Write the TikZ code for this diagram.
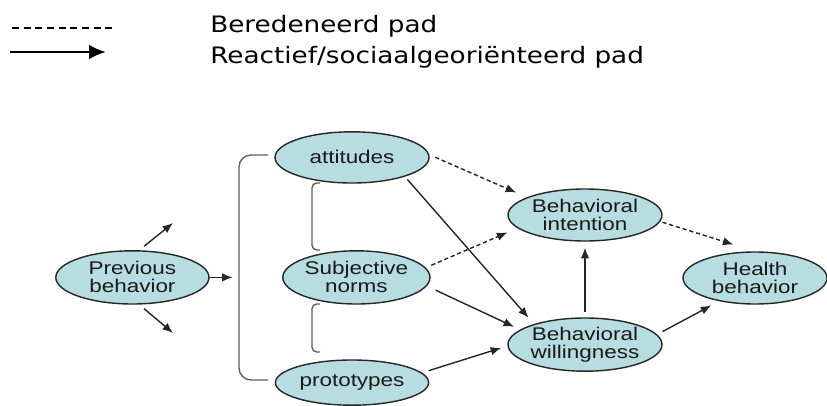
\documentclass[tikz,border=0pt]{standalone}
\usepackage{fontspec}
\setmainfont{Liberation Sans}
\newfontfamily\legendfont[FakeStretch=1.16]{DejaVu Sans}
\newfontfamily\ovalfont[FakeStretch=1.22]{Liberation Sans}
\usetikzlibrary{shapes.geometric,arrows.meta,positioning}
\definecolor{ovalfill}{RGB}{183,221,224}
\definecolor{bracketgray}{RGB}{95,95,95}

\begin{document}
\begin{tikzpicture}[
    construct/.style={ellipse, draw=black!85, line width=1pt, fill=ovalfill, inner sep=0pt, align=center, text=black!90, font=\ovalfont\fontsize{13.1}{12.8}\selectfont},
    reactive/.style={-{Latex[length=7.5pt,width=6pt]}, line width=1pt, black!85},
    reasoned/.style={reactive, dash pattern=on 3pt off 2pt},
    bracket/.style={line width=1pt, bracketgray},
    legendtext/.style={anchor=base west, inner sep=0pt, font=\legendfont\fontsize{16.1}{19}\selectfont}
]
    \useasboundingbox (0,0) rectangle (20.675,10.125);

    % Legenda
    \coordinate (dashA) at (0.3,9.425);
    \coordinate (dashB) at (2.925,9.425);
    \coordinate (arrowA) at (0.25,8.825);
    \coordinate (arrowB) at (2.65,8.825);
    \draw[line width=1.3pt, dash pattern=on 5pt off 3.3pt] (dashA) -- (dashB);
    \draw[line width=2pt, -{Latex[length=12pt,width=10.5pt]}] (arrowA) -- (arrowB);
    \node[legendtext] (legdash) at (5.25,9.3) {Beredeneerd pad};
    \node[legendtext] (legarrow) at (5.25,8.525) {Reactief/sociaalgeoriënteerd pad};

    % Constructen
    \node[construct, minimum width=3.83cm, minimum height=1.33cm] (prev) at (3.31,3.19) {Previous\\behavior};
    \node[construct, minimum width=3.85cm, minimum height=1.28cm] (att) at (8.80,6.19) {attitudes};
    \node[construct, minimum width=3.68cm, minimum height=1.33cm] (subj) at (8.91,3.19) {Subjective\\norms};
    \node[construct, minimum width=3.83cm, minimum height=1.13cm] (proto) at (8.80,0.56) {prototypes};
    \node[construct, minimum width=3.85cm, minimum height=1.30cm] (intent) at (14.625,4.75) {Behavioral\\intention};
    \node[construct, minimum width=3.85cm, minimum height=1.33cm] (will) at (14.625,1.51) {Behavioral\\willingness};
    \node[construct, minimum width=3.60cm, minimum height=1.30cm] (health) at (18.875,3.175) {Health\\behavior};

    % Haakjes
    \draw[bracket, rounded corners=0.3cm] (6.7,6.25) -- (5.975,6.25) -- (5.975,0.625) -- (6.7,0.625);
    \draw[bracket, rounded corners=0.12cm] (8.0,5.55) -- (7.8,5.55) -- (7.8,3.875) -- (8.0,3.875);
    \draw[bracket, rounded corners=0.12cm] (8.0,2.525) -- (7.8,2.525) -- (7.8,1.325) -- (8.0,1.325);

    % Paden vanuit eerder gedrag
    \coordinate[right=0.575cm of prev.east] (prevR);
    \coordinate (prevU) at (4.325,4.55);
    \coordinate (prevD) at (4.325,1.8);
    \draw[reactive] (prev.east) -- (prevR);
    \draw[reactive, shorten <=4.5pt] (prev.76) -- (prevU);
    \draw[reactive, shorten <=4.5pt] (prev.284) -- (prevD);

    % Paden
    \draw[reasoned, shorten <=4.6pt, shorten >=8.4pt] (att.2) -- (intent.163);
    \draw[reactive, shorten <=2.7pt, shorten >=5.9pt] (att.340) -- (will.158);
    \draw[reasoned, shorten <=4.3pt, shorten >=7.7pt] (subj.8) -- (intent.191);
    \draw[reactive, shorten <=6.9pt, shorten >=4.7pt] (subj.353) -- (will.167);
    \draw[reactive, shorten <=4.9pt, shorten >=4.6pt] (proto.8) -- (will.181);
    \draw[reactive, shorten <=3.6pt, shorten >=4.3pt] (will.north) -- (intent.south);
    \draw[reasoned, shorten <=1.6pt, shorten >=16.1pt] (intent.355) -- (health.north);
    \draw[reactive, shorten <=4.3pt, shorten >=6.4pt] (will.8) -- (health.213);
\end{tikzpicture}
\end{document}
